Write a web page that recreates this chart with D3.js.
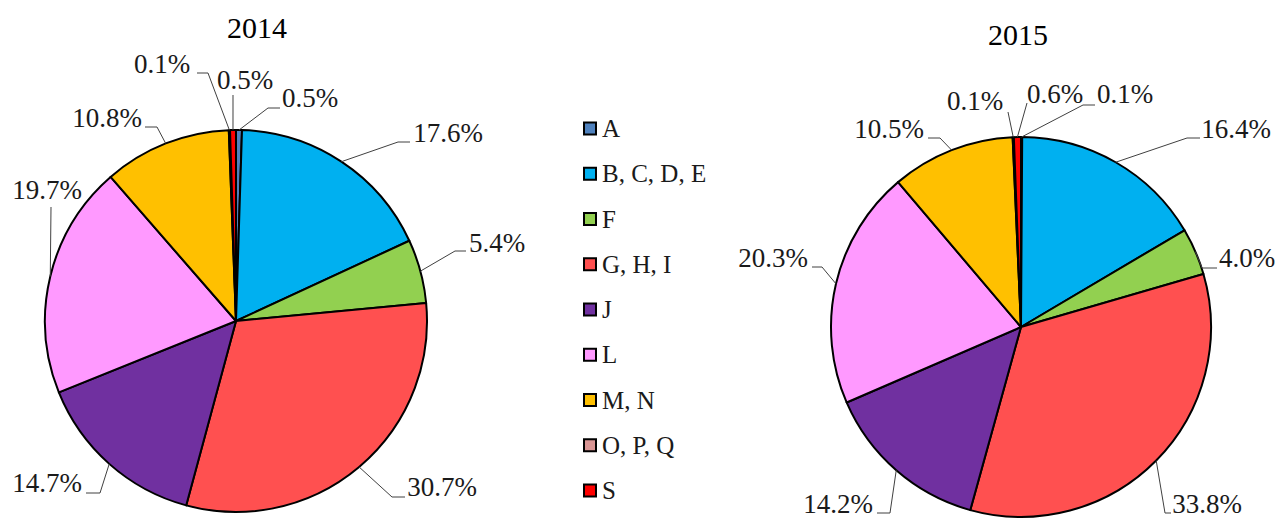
<!DOCTYPE html>
<html>
<head>
<meta charset="utf-8">
<script src="https://cdn.jsdelivr.net/npm/d3@7"></script>
<style>
  body { margin: 0; background: #fff; }
  svg { display: block; }
  svg text { font-family: "Liberation Serif", "DejaVu Serif", serif; }
</style>
</head>
<body>
<svg id="chart" width="1279" height="520"></svg>
<script>
/* global d3 */

// data
const categories = ['A', 'B, C, D, E', 'F', 'G, H, I', 'J', 'L', 'M, N', 'O, P, Q', 'S']
const values2014 = [0.5, 17.6, 5.4, 30.7, 14.7, 19.7, 10.8, 0.1, 0.5]
const values2015 = [0.1, 16.4, 4.0, 33.8, 14.2, 20.3, 10.5, 0.1, 0.6]
const sliceColors = ['#4F81BD', '#00B0F0', '#92D050', '#FF5050', '#7030A0', '#FF99FF', '#FFC000', '#D99594', '#FF0000']

// label placement (relative to the pie centre): text x / baseline, leader bend points
const labels2014 = [
  {tx: 74, ty: -214, pts: [[32, -213], [44, -213]]},
  {tx: 212, ty: -179, pts: [[162, -179], [174, -179]]},
  {tx: 261, ty: -69, pts: [[219, -70], [230, -70]]},
  {tx: 206, ty: 175, pts: [[156, 176], [169, 176]]},
  {tx: -189, ty: 171, pts: [[-136, 172], [-150, 172]]},
  {tx: -189, ty: -122, pts: [[-185, -114]]},
  {tx: -129, ty: -194, pts: [[-79, -194], [-91, -194]]},
  {tx: -74, ty: -248, pts: [[-28, -248], [-39, -248]]},
  {tx: 9, ty: -232, pts: [[-3, -226]]}
]
const labels2015 = [
  {tx: 104, ty: -224, pts: [[62, -222], [74, -222]]},
  {tx: 215, ty: -189, pts: [[166, -189], [179, -189]]},
  {tx: 226, ty: -60, pts: [[181, -59], [196, -59]]},
  {tx: 186, ty: 186, pts: [[144, 186], [150, 186]]},
  {tx: -183, ty: 186, pts: [[-131, 186], [-144, 186]]},
  {tx: -248, ty: -60, pts: [[-199, -60], [-209, -60]]},
  {tx: -132, ty: -189, pts: [[-81, -189], [-93, -189]]},
  {tx: -46, ty: -217, pts: [[-13, -215]]},
  {tx: 34, ty: -224, pts: [[6, -224]]}
]

const svg = d3.select('#chart')
const color = d3.scaleOrdinal().domain(categories).range(sliceColors)
const serif = '"Liberation Serif", "DejaVu Serif", serif'

function drawPie (opt) {
  let g = svg.append('g').attr('transform', 'translate(' + opt.cx + ',' + opt.cy + ')')
  let rows = categories.map((c, i) => ({cat: c, value: opt.values[i], lab: opt.labels[i]}))
  let pie = d3.pie().sort(null).value(d => d.value)
  let arc = d3.arc().innerRadius(0).outerRadius(opt.r)
  let arcs = pie(rows)

  g.selectAll('path.slice')
    .data(arcs)
    .enter()
    .append('path')
    .attr('class', 'slice')
    .attr('d', arc)
    .attr('fill', d => color(d.data.cat))
    .attr('stroke', '#000')
    .attr('stroke-width', 2)
    .attr('stroke-linejoin', 'round')

  // leader lines, from the outer arc at the slice mid angle
  g.selectAll('polyline.leader')
    .data(arcs)
    .enter()
    .append('polyline')
    .attr('class', 'leader')
    .attr('points', function (d) {
      let a = (d.startAngle + d.endAngle) / 2
      let p0 = [opt.r * Math.sin(a), -opt.r * Math.cos(a)]
      return [p0].concat(d.data.lab.pts).map(p => p.join(',')).join(' ')
    })
    .attr('fill', 'none')
    .attr('stroke', '#404040')
    .attr('stroke-width', 1)

  g.selectAll('text.pct')
    .data(arcs)
    .enter()
    .append('text')
    .attr('class', 'pct')
    .attr('x', d => d.data.lab.tx)
    .attr('y', d => d.data.lab.ty)
    .attr('text-anchor', 'middle')
    .attr('font-family', serif)
    .style('font-size', '27px')
    .attr('fill', '#1a1a1a')
    .text(d => d.data.value.toFixed(1) + '%')

  svg.append('text')
    .attr('x', opt.titleX)
    .attr('y', opt.titleY)
    .attr('text-anchor', 'middle')
    .attr('font-family', serif)
    .style('font-size', '30px')
    .attr('fill', '#000')
    .text(opt.title)
}

drawPie({cx: 236, cy: 321, r: 191, values: values2014, labels: labels2014, title: '2014', titleX: 257, titleY: 38})
drawPie({cx: 1021, cy: 327, r: 190, values: values2015, labels: labels2015, title: '2015', titleX: 1018, titleY: 45})

// legend
let legendY = d3.scalePoint().domain(categories).range([129, 491])
let legend = svg.append('g').attr('class', 'legend')
let item = legend.selectAll('g.item')
  .data(categories)
  .enter()
  .append('g')
  .attr('class', 'item')
  .attr('transform', d => 'translate(584,' + legendY(d) + ')')
item.append('rect')
  .attr('x', 0)
  .attr('y', -6.5)
  .attr('width', 12)
  .attr('height', 12)
  .attr('fill', d => color(d))
  .attr('stroke', '#000')
  .attr('stroke-width', 2)
item.append('text')
  .attr('x', 18)
  .attr('y', 8)
  .attr('font-family', serif)
  .style('font-size', '25px')
  .attr('fill', '#1a1a1a')
  .text(d => d)
</script>
</body>
</html>
